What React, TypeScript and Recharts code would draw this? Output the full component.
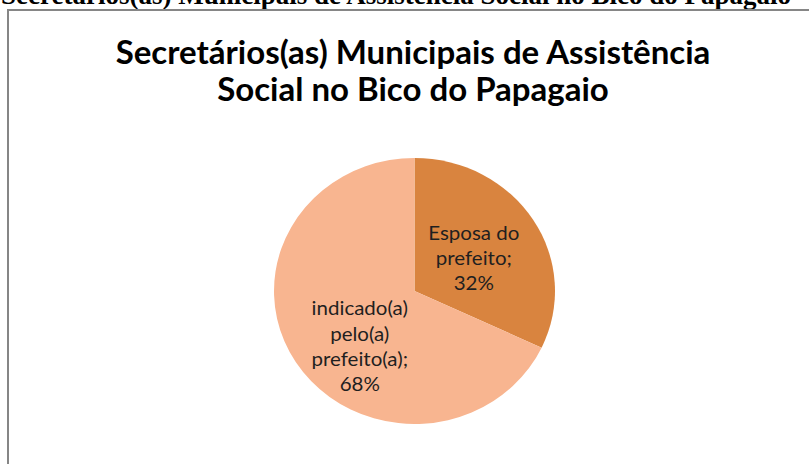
import React from "react";
import { PieChart, Pie, Cell } from "recharts";

const pageTitle = "Secretários(as) Municipais de Assistência Social no Bico do Papagaio";
const chartTitleLines = ["Secretários(as) Municipais de Assistência", "Social no Bico do Papagaio"];
const categories = ["Esposa do prefeito", "indicado(a) pelo(a) prefeito(a)"];
const labelLines = [
  ["Esposa do", "prefeito;"],
  ["indicado(a)", "pelo(a)", "prefeito(a);"],
];
const values = [32, 68];
const colors = ["#D9843F", "#F8B590"];

const data = categories.map((name, i) => ({ name, value: values[i] }));

const RAD = Math.PI / 180;

const renderLabel = (props: any) => {
  const { cx, cy, midAngle, outerRadius, index, percent } = props;
  const f = index === 0 ? 0.5 : 0.565;
  const ang = index === 0 ? midAngle : midAngle + 14;
  const x = cx + outerRadius * f * Math.cos(-ang * RAD);
  const y = cy + outerRadius * f * Math.sin(-ang * RAD);
  const lines = [...labelLines[index], `${Math.round(percent * 100)}%`];
  const lh = 26;
  const startY = y - ((lines.length - 1) * lh) / 2 + (index === 0 ? 2 : 0);
  return (
    <text
      key={`lbl-${index}`}
      x={x}
      y={startY}
      textAnchor="middle"
      dominantBaseline="central"
      fill="#1F1F1F"
      style={{ fontFamily: "Lato, 'Open Sans', sans-serif", fontSize: 20 }}
    >
      {lines.map((ln, i) => (
        <tspan key={i} x={x} y={startY + i * lh} dominantBaseline="central">
          {ln}
        </tspan>
      ))}
    </text>
  );
};

export default function App() {
  return (
    <div style={{ position: "absolute", left: 0, top: 0, width: 809, height: 464, background: "#fff", overflow: "hidden" }}>
      <svg width={809} height={464} style={{ position: "absolute", left: 0, top: 0 }}>
        <text
          x={1}
          y={4}
          style={{ fontFamily: "'Liberation Serif', 'Times New Roman', serif", fontWeight: "bold", fontSize: 27 }}
          fill="#000"
        >
          {pageTitle}
        </text>
        <line x1={7} y1={10} x2={809} y2={10} stroke="#868686" strokeWidth={2} />
        <line x1={8} y1={10} x2={8} y2={464} stroke="#868686" strokeWidth={2} />
        {chartTitleLines.map((t, i) => (
          <text
            key={i}
            x={413}
            y={64 + i * 37}
            textAnchor="middle"
            fill="#000"
            style={{ fontFamily: "Lato, 'Open Sans', sans-serif", fontWeight: "bold", fontSize: 33 }}
          >
            {t}
          </text>
        ))}
      </svg>
      <div
        style={{
          position: "absolute",
          left: 0,
          top: 0,
          transformOrigin: "414.5px 291px",
          transform: "scale(1.0255, 0.9708)",
        }}
      >
        <PieChart width={809} height={464} margin={{ top: 0, right: 0, bottom: 0, left: 0 }}>
          <Pie
            data={data}
            dataKey="value"
            nameKey="name"
            cx={414.5}
            cy={291}
            outerRadius={137}
            startAngle={90}
            endAngle={-270}
            stroke="none"
            isAnimationActive={false}
            labelLine={false}
            label={renderLabel}
          >
            {data.map((d, i) => (
              <Cell key={d.name} fill={colors[i]} />
            ))}
          </Pie>
        </PieChart>
      </div>
    </div>
  );
}
